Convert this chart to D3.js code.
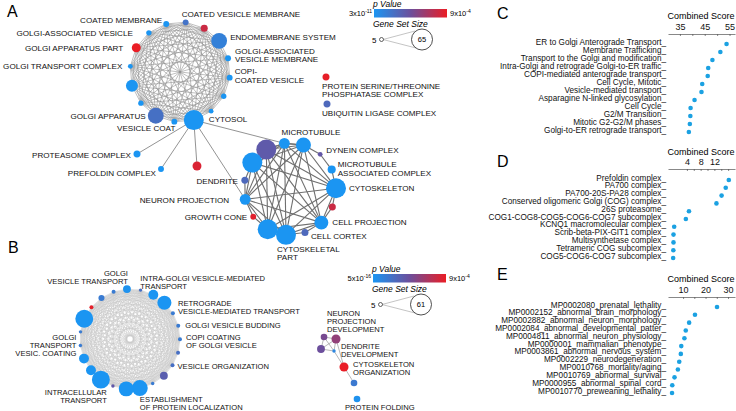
<!DOCTYPE html>
<html>
<head>
<meta charset="utf-8">
<script src="https://cdn.jsdelivr.net/npm/d3@7"></script>
<style>
  body { margin: 0; background: #fff; }
  svg { display: block; font-family: "Liberation Sans", Arial, sans-serif; }
</style>
</head>
<body>
<svg id="fig" width="736" height="411"></svg>
<script>
// ---------------- data ----------------
// Panel A, Golgi ring (clockwise from upper left); "\n" splits label lines
var golgiNamesA = ["COATED MEMBRANE", "COATED VESICLE MEMBRANE", "", "ENDOMEMBRANE SYSTEM",
  "GOLGI-ASSOCIATED\nVESICLE MEMBRANE", "COPI-\nCOATED VESICLE", "", "", "CYTOSOL", "VESICLE COAT",
  "GOLGI APPARATUS", "", "", "GOLGI TRANSPORT COMPLEX", "GOLGI APPARATUS PART", "GOLGI-ASSOCIATED VESICLE"];
var golgiSizeA = [14, 14, 18, 50, 14, 14, 12, 10, 65, 14, 50, 12, 36, 10, 25, 12];
var golgiPA = [3e-11, 2e-9, 1e-4, 4e-10, 3e-11, 3e-11, 3e-11, 3e-11, 3e-11, 3e-11, 3e-9, 3e-11, 3e-11, 3e-11, 9e-4, 3e-11];

// Panel A, cytoskeleton ring
var cytoNamesA = ["", "MICROTUBULE", "", "DYNEIN COMPLEX", "MICROTUBULE\nASSOCIATED COMPLEX", "CYTOSKELETON", "",
  "CELL PROJECTION", "CELL CORTEX", "CYTOSKELETAL\nPART", "", "GROWTH CONE", "NEURON PROJECTION", "DENDRITE", ""];
var cytoSizeA = [65, 32, 47, 10, 22, 65, 18, 43, 18, 65, 65, 14, 32, 18, 65];
var cytoPA = [4e-8, 3e-11, 3e-11, 6e-8, 3e-11, 3e-11, 1e-4, 3e-11, 7e-9, 3e-11, 3e-11, 5e-4, 3e-11, 7e-9, 3e-11];

// Panel A, loose terms
var otherNamesA = ["PROTEASOME COMPLEX", "PREFOLDIN COMPLEX", "", "PROTEIN SERINE/THREONINE\nPHOSPHATASE COMPLEX", "UBIQUITIN LIGASE COMPLEX"];
var otherSizeA = [18, 14, 25, 18, 18];
var otherPA = [3e-11, 3e-11, 3e-4, 7e-4, 7e-9];
// links from CYTOSOL
var cytosolLinksA = [["other", 0], ["other", 1], ["other", 2], ["cyto", 1], ["cyto", 12]];

// Panel B, Golgi transport ring
var ringNamesB = ["GOLGI\nVESICLE TRANSPORT", "", "INTRA-GOLGI VESICLE-MEDIATED\nTRANSPORT", "", "RETROGRADE\nVESICLE-MEDIATED TRANSPORT",
  "GOLGI VESICLE BUDDING", "COPI COATING\nOF GOLGI VESICLE", "", "VESICLE ORGANIZATION", "", "", "ESTABLISHMENT\nOF PROTEIN LOCALIZATION",
  "", "", "INTRACELLULAR\nTRANSPORT", "", "", "GOLGI\nTRANSPORT\nVESIC. COATING", "", "", "", "", ""];
var ringSizeB = [20, 5, 27, 41, 7, 7, 7, 7, 7, 20, 5, 47, 44, 5, 54, 27, 27, 5, 5, 54, 7, 14, 7];
var ringPB = [1e-15, 1e-12, 5e-16, 5e-16, 1e-13, 1e-13, 1e-13, 1e-12, 1e-12, 3e-11, 1e-13, 5e-16, 5e-16, 1e-10,
  5e-16, 5e-16, 5e-16, 1e-13, 1e-13, 5e-16, 5e-4, 1e-13, 1e-13];

// Panel B, development cluster
var devNamesB = ["", "NEURON\nPROJECTION\nDEVELOPMENT", "", "DENDRITE\nDEVELOPMENT", "CYTOSKELETON\nORGANIZATION", "", "PROTEIN FOLDING"];
var devSizeB = [16, 24, 20, 5, 24, 16, 16];
var devPB = [2.7e-9, 4.7e-8, 7e-10, 1e-14, 8e-4, 1.4e-13, 1e-15];
var devLinksB = [[0, 1], [0, 2], [1, 2], [1, 3], [2, 3], [0, 3], [1, 4], [3, 4], [4, 5]];

// Panel C, Reactome
var termsC = ["ER to Golgi Anterograde Transport", "Membrane Trafficking", "Transport to the Golgi and modification",
  "Intra-Golgi and retrograde Golgi-to-ER traffic", "COPI-mediated anterograde transport", "Cell Cycle, Mitotic",
  "Vesicle-mediated transport", "Asparagine N-linked glycosylation", "Cell Cycle", "G2/M Transition",
  "Mitotic G2-G2/M phases", "Golgi-to-ER retrograde transport"];
var scoreC = [53.8, 51.3, 48.1, 46.4, 46.2, 44.0, 43.7, 40.9, 39.3, 39.2, 39.0, 38.6];
var ticksC = [35, 40, 45, 50, 55], tickLabelsC = [35, 45, 55];

// Panel D, CORUM
var termsD = ["Prefoldin complex", "PA700 complex", "PA700-20S-PA28 complex", "Conserved oligomeric Golgi (COG) complex",
  "26S proteasome", "COG1-COG8-COG5-COG6-COG7 subcomplex", "KCNQ1 macromolecular complex", "Scrib-beta-PIX-GIT1 complex",
  "Multisynthetase complex", "Tetrameric COG subcomplex", "COG5-COG6-COG7 subcomplex"];
var scoreD = [16.2, 15.3, 14.1, 12.6, 4.6, 3.7, 0.3, 0.1, 0.1, 0.05, 0.0];
var ticksD = [4, 6, 8, 10, 12, 14, 16], tickLabelsD = [4, 8, 12];

// Panel E, MGI phenotypes
var termsE = ["MP0002080_prenatal_lethality", "MP0002152_abnormal_brain_morphology", "MP0002882_abnormal_neuron_morphology",
  "MP0002084_abnormal_developmental_patter", "MP0004811_abnormal_neuron_physiology", "MP0000001_mammalian_phenotype",
  "MP0003861_abnormal_nervous_system", "MP0002229_neurodegeneration", "MP0010768_mortality/aging",
  "MP0010769_abnormal_survival", "MP0000955_abnormal_spinal_cord", "MP0010770_preweaning_lethality"];
var scoreE = [25.1, 15.3, 12.7, 11.2, 10.6, 9.2, 9.0, 8.3, 7.7, 6.2, 5.2, 5.1];
var ticksE = [10, 15, 20, 25, 30], tickLabelsE = [10, 20, 30];

var legendA = {lo: ["3x10", "-11"], hi: ["9x10", "-4"], maxSize: 65, pDomain: [3e-11, 9e-4]};
var legendB = {lo: ["5x10", "-16"], hi: ["9x10", "-4"], maxSize: 61, pDomain: [5e-16, 9e-4]};

// ---------------- layout ----------------
var svg = d3.select("#fig");
var rampColors = ["#1b95f2", "#6c4f9c", "#ea1d25"];
var ramp = d3.scaleLinear().domain([0, 0.5, 1]).range(rampColors);

function colorScale(pDomain) {
  var t = d3.scaleLog().domain(pDomain).range([0, 1]).clamp(true);
  return function (p) { return ramp(t(p)); };
}

function ring(names, sizes, ps, cx, cy, R, startDeg) {
  var step = 2 * Math.PI / names.length, a0 = startDeg * Math.PI / 180;
  return names.map(function (n, i) {
    var a = a0 + i * step;
    return {name: n, size: sizes[i], p: ps[i], x: cx + R * Math.cos(a), y: cy + R * Math.sin(a)};
  });
}

function allPairs(nodes) {
  var out = [];
  for (var i = 0; i < nodes.length; i++)
    for (var j = i + 1; j < nodes.length; j++) out.push([nodes[i], nodes[j]]);
  return out;
}

// sparser net: neighbours on the ring plus every pair of large terms
function ringAndHubs(nodes, minSize) {
  var out = [];
  nodes.forEach(function (n, i) { out.push([n, nodes[(i + 1) % nodes.length]]); });
  var big = nodes.filter(function (n) { return n.size >= minSize; });
  return out.concat(allPairs(big));
}

function drawEdges(g, links, stroke, width) {
  g.selectAll(null).data(links).enter().append("line")
    .attr("x1", function (d) { return d[0].x; }).attr("y1", function (d) { return d[0].y; })
    .attr("x2", function (d) { return d[1].x; }).attr("y2", function (d) { return d[1].y; })
    .attr("stroke", stroke).attr("stroke-width", width);
}

function drawNodes(g, nodes, rScale, col) {
  g.selectAll(null).data(nodes).enter().append("circle")
    .attr("cx", function (d) { return d.x; }).attr("cy", function (d) { return d.y; })
    .attr("r", function (d) { return rScale(d.size); })
    .attr("fill", function (d) { return col(d.p); });
}

// label spec per node: [anchor, dx, dy of first line centre]
function drawLabels(g, nodes, specs, fs, lh) {
  nodes.forEach(function (n, i) {
    var s = specs[i];
    if (!n.name || !s) return;
    var t = g.append("text").attr("font-size", fs).attr("fill", "#111").attr("text-anchor", s[0])
      .attr("x", n.x + s[1]).attr("y", n.y + s[2]);
    n.name.split("\n").forEach(function (line, k) {
      t.append("tspan").attr("x", n.x + s[1]).attr("dy", k ? lh : "0.35em").text(line);
    });
  });
}

function drawLegend(g, x, y, L, id) {
  var grad = svg.append("defs").append("linearGradient").attr("id", id);
  d3.range(0, 1.01, 0.1).forEach(function (t) {
    grad.append("stop").attr("offset", t).attr("stop-color", ramp(t));
  });
  g.append("text").attr("x", x - 1).attr("y", y - 2).attr("font-size", 8.5).attr("font-style", "italic").text("p Value");
  g.append("rect").attr("x", x).attr("y", y).attr("width", 73).attr("height", 8.5).attr("fill", "url(#" + id + ")");
  [[L.lo, x - 2, "end"], [L.hi, x + 76, "start"]].forEach(function (e) {
    var t = g.append("text").attr("x", e[1]).attr("y", y + 7).attr("font-size", 7.5).attr("text-anchor", e[2]).text(e[0][0]);
    t.append("tspan").attr("dy", -3).attr("font-size", 5).text(e[0][1]);
  });
  g.append("text").attr("x", x - 1).attr("y", y + 18).attr("font-size", 8.5).attr("font-style", "italic").text("Gene Set Size");
  var cy = y + 30.5;
  g.append("text").attr("x", x - 2).attr("y", cy + 3).attr("font-size", 8).text("5");
  g.append("line").attr("x1", x + 9).attr("y1", cy).attr("x2", x + 41).attr("y2", cy - 8.5).attr("stroke", "#aaa").attr("stroke-width", 0.7);
  g.append("line").attr("x1", x + 9).attr("y1", cy).attr("x2", x + 42).attr("y2", cy + 8.5).attr("stroke", "#aaa").attr("stroke-width", 0.7);
  g.append("circle").attr("cx", x + 7.5).attr("cy", cy).attr("r", 2).attr("fill", "#fff").attr("stroke", "#222").attr("stroke-width", 0.7);
  g.append("circle").attr("cx", x + 48).attr("cy", cy).attr("r", 10.5).attr("fill", "#fff").attr("stroke", "#222").attr("stroke-width", 0.8);
  g.append("text").attr("x", x + 48).attr("y", cy + 2.8).attr("font-size", 7.5).attr("text-anchor", "middle").text(L.maxSize);
}

function panelLetter(ch, x, y) {
  svg.append("text").attr("x", x).attr("y", y).attr("font-size", 16).text(ch);
}

// ---------------- panel A ----------------
var gA = svg.append("g");
var rA = d3.scaleLinear().domain([5, 65]).range([1.7, 10]);
var colA = colorScale(legendA.pDomain);
var golgiA = ring(golgiNamesA, golgiSizeA, golgiPA, 180, 72, 50, -106);
var cytoA = ring(cytoNamesA, cytoSizeA, cytoPA, 290, 189, 46, -121);
var otherPosA = [[137, 154], [161, 169], [197, 166], [326, 77], [327, 104]];
var otherA = otherNamesA.map(function (n, i) {
  return {name: n, size: otherSizeA[i], p: otherPA[i], x: otherPosA[i][0], y: otherPosA[i][1]};
});
var groupsA = {other: otherA, cyto: cytoA};
var cytosol = golgiA[8];

drawEdges(gA, allPairs(golgiA), "#8c8c8c", 0.55);
drawEdges(gA, ringAndHubs(cytoA, 30), "#6f6f6f", 1.1);
drawEdges(gA, cytosolLinksA.map(function (l) { return [cytosol, groupsA[l[0]][l[1]]]; }), "#777", 0.8);
drawNodes(gA, golgiA, rA, colA);
drawNodes(gA, cytoA, rA, colA);
drawNodes(gA, otherA, rA, colA);

drawLabels(gA, golgiA, [["end", -4, -4], ["start", -4, -8], null, ["start", 11, -4], ["start", 7, -7],
  ["start", 5, -6], null, null, ["start", 15, -1], ["end", 1, 6], ["end", -10, 0], null, null,
  ["end", -8, 0], ["end", -13, 0], ["end", -16, 0]], 8.1, 8.4);
drawLabels(gA, cytoA, [null, ["start", -3, -11], null, ["start", 6, -4], ["start", 6, -5], ["start", 13, 0], null,
  ["start", 11, 0], ["start", 6, 4], ["start", -9, 14], null, ["end", -6, 0], ["end", -16, 1], ["end", -7, 1], null], 8.1, 8.4);
drawLabels(gA, otherA, [["end", -6, 1], ["end", -5, 4], null, ["start", -4, 9], ["start", -5, 9]], 8.1, 8.2);
drawLegend(gA, 374, 9, legendA, "gradA");
panelLetter("A", 7, 17);

// ---------------- panel B ----------------
var gB = svg.append("g");
var rB = d3.scaleLinear().domain([5, 61]).range([1.7, 10]);
var colB = colorScale(legendB.pDomain);
var ringB = ring(ringNamesB, ringSizeB, ringPB, 130, 339, 50, -93.5);
var devPosB = [[324, 337], [336, 339], [321, 349], [334, 351], [344, 367], [354, 383], [357, 399]];
var devB = devNamesB.map(function (n, i) {
  return {name: n, size: devSizeB[i], p: devPB[i], x: devPosB[i][0], y: devPosB[i][1]};
});

drawEdges(gB, allPairs(ringB), "#c6c6c6", 0.5);
drawEdges(gB, devLinksB.map(function (l) { return [devB[l[0]], devB[l[1]]]; }), "#999", 0.7);
gB.append("circle").attr("cx", 130).attr("cy", 339).attr("r", 3).attr("fill", "#fff").attr("stroke", "#ccc").attr("stroke-width", 0.6);
drawNodes(gB, ringB, rB, colB);
drawNodes(gB, devB, rB, colB);
drawLabels(gB, ringB, [["end", 1, -16], null, ["start", -13, -16.5], null, ["start", 5, -10], ["start", 7, -1],
  ["start", 6, -2], null, ["start", 5, 1], null, null, ["start", 0, 11], null, null, ["end", 6, 13], null, null,
  ["end", -4, -8]], 7.6, 7.9);
drawLabels(gB, devB, [null, ["start", -9, -25.5], null, ["start", 7, -5], ["start", 9, -2.5], null, ["start", -12, 8]], 7.6, 7.9);
drawLegend(gB, 373, 274, legendB, "gradB");
panelLetter("B", 8, 253);

// ---------------- panels C, D, E ----------------
function dotPlot(terms, scores, domain, ticks, tickLabels, y0, y1, axisY, titleY) {
  var g = svg.append("g");
  var x = d3.scaleLinear().domain(domain).range([668, 735]);
  var y = d3.scalePoint().domain(terms).range([y0, y1]);
  g.append("text").attr("x", 701).attr("y", titleY).attr("font-size", 9).attr("text-anchor", "middle").text("Combined Score");
  var ax = g.append("g").attr("transform", "translate(0," + axisY + ")")
    .call(d3.axisTop(x).tickValues(ticks).tickSizeInner(-2).tickSizeOuter(0).tickPadding(4)
      .tickFormat(function (v) { return tickLabels.indexOf(v) >= 0 ? v : ""; }));
  ax.select(".domain").attr("stroke", "#555").attr("stroke-width", 0.7);
  ax.selectAll(".tick line").attr("stroke", "#555").attr("stroke-width", 0.7);
  ax.selectAll("text").attr("font-size", 9).attr("fill", "#111").attr("font-family", "Liberation Sans, Arial, sans-serif");
  g.selectAll(null).data(terms).enter().append("text")
    .attr("x", 666).attr("y", function (d) { return y(d) + 0.5; })
    .attr("text-anchor", "end").attr("font-size", 8.2).attr("fill", "#111")
    .text(function (d) { return d + "_"; });
  g.selectAll(null).data(terms).enter().append("circle")
    .attr("cx", function (d, i) { return x(scores[i]); }).attr("cy", function (d) { return y(d); })
    .attr("r", 2.3).attr("fill", "#1ba1e2");
}

dotPlot(termsC, scoreC, [30.2, 57.2], ticksC, tickLabelsC, 44, 132, 34, 19);
dotPlot(termsD, scoreD, [-1.5, 18], ticksD, tickLabelsD, 180, 258, 169, 155);
dotPlot(termsE, scoreE, [3.3, 33.1], ticksE, tickLabelsE, 307, 393, 297, 281.5);
panelLetter("C", 497, 19);
panelLetter("D", 497, 167);
panelLetter("E", 497, 280);
</script>
</body>
</html>
